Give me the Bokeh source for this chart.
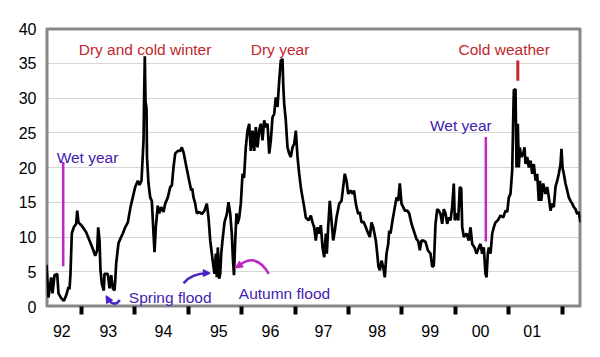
from bokeh.plotting import figure
from bokeh.models import Range1d, FixedTicker, Arrow, NormalHead
from bokeh.core.properties import value
from bokeh.embed import file_html
from bokeh.resources import INLINE

# ---- data (decimal year, value) ----
years = [
    1992.345, 1992.382, 1992.433, 1992.457, 1992.495, 1992.545, 1992.570, 1992.620, 1992.669, 1992.714,
    1992.757, 1992.776, 1992.794, 1992.819, 1992.856, 1992.901, 1992.920, 1992.944, 1992.995, 1993.044,
    1993.088, 1993.150, 1993.212, 1993.257, 1993.294, 1993.313, 1993.338, 1993.356, 1993.381, 1993.418,
    1993.431, 1993.493, 1993.525, 1993.557, 1993.587, 1993.618, 1993.632, 1993.650, 1993.693, 1993.731,
    1993.774, 1993.819, 1993.868, 1993.918, 1993.961, 1994.006, 1994.055, 1994.087, 1994.124, 1994.143,
    1994.162, 1994.171, 1994.186, 1994.199, 1994.218, 1994.227, 1994.255, 1994.287, 1994.317, 1994.349,
    1994.368, 1994.392, 1994.429, 1994.456, 1994.493, 1994.536, 1994.568, 1994.617, 1994.662, 1994.692,
    1994.723, 1994.755, 1994.804, 1994.849, 1994.879, 1994.911, 1994.954, 1994.991, 1995.017, 1995.055,
    1995.074, 1995.098, 1995.130, 1995.160, 1995.205, 1995.253, 1995.304, 1995.347, 1995.379, 1995.411,
    1995.441, 1995.472, 1995.491, 1995.516, 1995.534, 1995.553, 1995.579, 1995.598, 1995.617, 1995.641,
    1995.678, 1995.722, 1995.753, 1995.785, 1995.815, 1995.834, 1995.856, 1995.879, 1995.903, 1995.922,
    1995.954, 1995.984, 1996.016, 1996.044, 1996.077, 1996.109, 1996.141, 1996.171, 1996.203, 1996.235,
    1996.265, 1996.296, 1996.328, 1996.358, 1996.390, 1996.422, 1996.452, 1996.484, 1996.516, 1996.546,
    1996.577, 1996.609, 1996.639, 1996.671, 1996.703, 1996.733, 1996.765, 1996.778, 1996.796, 1996.826,
    1996.858, 1996.890, 1996.920, 1996.952, 1996.984, 1997.014, 1997.046, 1997.077, 1997.107, 1997.139,
    1997.171, 1997.201, 1997.252, 1997.295, 1997.326, 1997.358, 1997.388, 1997.420, 1997.452, 1997.482,
    1997.514, 1997.546, 1997.576, 1997.594, 1997.620, 1997.650, 1997.682, 1997.714, 1997.744, 1997.776,
    1997.826, 1997.870, 1997.901, 1997.931, 1997.963, 1997.995, 1998.038, 1998.076, 1998.104, 1998.137,
    1998.182, 1998.212, 1998.244, 1998.282, 1998.325, 1998.370, 1998.400, 1998.431, 1998.463, 1998.512,
    1998.538, 1998.562, 1998.587, 1998.619, 1998.650, 1998.680, 1998.712, 1998.744, 1998.763, 1998.787,
    1998.825, 1998.868, 1998.900, 1998.931, 1998.961, 1998.993, 1999.025, 1999.055, 1999.100, 1999.137,
    1999.180, 1999.223, 1999.274, 1999.306, 1999.336, 1999.368, 1999.399, 1999.443, 1999.486, 1999.536,
    1999.568, 1999.598, 1999.630, 1999.662, 1999.692, 1999.723, 1999.755, 1999.785, 1999.817, 1999.849,
    1999.879, 1999.911, 1999.942, 1999.972, 1999.991, 2000.023, 2000.055, 2000.085, 2000.111, 2000.130,
    2000.160, 2000.210, 2000.253, 2000.285, 2000.317, 2000.360, 2000.398, 2000.441, 2000.473, 2000.504,
    2000.534, 2000.566, 2000.585, 2000.609, 2000.628, 2000.660, 2000.692, 2000.722, 2000.753, 2000.797,
    2000.847, 2000.898, 2000.941, 2000.973, 2001.003, 2001.034, 2001.066, 2001.096, 2001.128, 2001.147,
    2001.171, 2001.190, 2001.208, 2001.235, 2001.272, 2001.297, 2001.315, 2001.347, 2001.377, 2001.409,
    2001.441, 2001.471, 2001.503, 2001.534, 2001.564, 2001.587, 2001.609, 2001.647, 2001.690, 2001.722,
    2001.752, 2001.783, 2001.815, 2001.845, 2001.877, 2001.909, 2001.939, 2001.971, 2001.989, 2002.008,
    2002.032, 2002.064, 2002.096, 2002.126, 2002.158, 2002.190, 2002.220, 2002.252, 2002.283, 2002.313,
    2002.345,
]
flow = [
    6.0, 1.3, 4.2, 1.9, 4.5, 4.7, 1.9, 1.2, 0.8, 1.6,
    2.8, 2.5, 4.7, 10.5, 11.4, 11.9, 13.8, 12.1, 11.7, 11.2,
    10.7, 9.5, 8.3, 7.3, 8.1, 11.4, 9.5, 5.2, 3.3, 2.3,
    4.7, 4.7, 2.6, 4.5, 2.6, 2.3, 3.7, 6.2, 9.1, 9.8,
    10.5, 11.4, 12.1, 14.3, 15.7, 17.2, 18.1, 17.5, 18.1, 21.0,
    23.9, 29.0, 36.0, 29.5, 28.5, 21.5, 17.7, 15.7, 15.2, 10.5,
    7.8, 11.4, 14.5, 13.4, 14.3, 13.6, 14.8, 15.7, 17.2, 17.4,
    20.0, 22.0, 22.4, 22.4, 22.9, 22.2, 20.5, 19.1, 18.1, 16.7,
    17.0, 15.7, 14.8, 13.4, 13.6, 13.3, 13.8, 14.8, 12.8, 9.5,
    7.6, 5.7, 4.7, 7.6, 4.2, 8.5, 4.0, 4.7, 7.6, 9.5,
    12.1, 13.3, 15.0, 13.4, 10.5, 7.1, 4.5, 9.5, 13.4, 11.9,
    12.8, 14.8, 19.1, 18.5, 22.9, 25.3, 26.3, 22.4, 25.3, 22.4,
    25.8, 22.9, 25.3, 26.3, 23.9, 26.8, 25.8, 26.3, 22.0, 23.9,
    27.2, 27.7, 30.1, 28.7, 32.5, 35.4, 35.6, 32.0, 29.2, 26.8,
    22.9, 22.0, 21.5, 22.9, 23.4, 25.3, 21.5, 19.1, 17.2, 15.7,
    14.3, 12.8, 12.4, 13.1, 12.1, 11.4, 9.5, 11.4, 10.5, 11.7,
    8.5, 7.1, 10.5, 7.6, 11.4, 15.2, 12.4, 9.5, 10.9, 12.8,
    14.8, 15.2, 17.2, 19.1, 18.1, 16.2, 16.7, 16.2, 16.7, 14.8,
    13.3, 13.6, 12.1, 12.2, 11.4, 10.5, 10.0, 12.1, 11.4, 9.5,
    7.6, 5.7, 5.2, 6.6, 5.7, 4.2, 7.6, 9.0, 10.9, 10.5,
    12.4, 14.3, 15.7, 15.2, 17.7, 14.8, 14.3, 13.8, 13.8, 13.4,
    11.9, 10.9, 9.7, 9.4, 8.1, 9.5, 9.5, 9.3, 8.1, 7.6,
    5.7, 5.9, 11.9, 14.0, 13.8, 13.3, 11.9, 14.0, 13.4, 11.9,
    12.8, 12.4, 14.3, 17.7, 12.4, 13.4, 12.4, 17.2, 17.0, 11.4,
    10.0, 10.5, 9.5, 11.4, 9.0, 8.5, 7.6, 8.5, 9.0, 7.6,
    8.5, 4.7, 4.2, 7.6, 8.5, 7.6, 10.5, 11.4, 12.1, 12.4,
    13.1, 12.8, 13.8, 13.6, 15.7, 16.2, 19.6, 31.1, 31.3, 20.0,
    26.3, 20.0, 22.9, 21.5, 22.0, 22.9, 20.5, 21.5, 20.0, 21.0,
    19.1, 20.5, 18.1, 19.1, 15.2, 18.1, 15.2, 17.7, 16.2, 17.2,
    15.7, 13.8, 14.8, 14.3, 17.2, 18.1, 19.1, 20.5, 22.7, 20.0,
    19.1, 17.7, 16.7, 15.7, 15.2, 14.8, 14.3, 14.0, 13.3, 13.6,
    12.1,
]

year_bounds = [1993, 1994, 1995, 1996, 1997, 1998, 1999, 2000, 2001, 2002]
label_pos = [1992.632, 1993.502, 1994.536, 1995.572, 1996.540,
             1997.532, 1998.538, 1999.531, 2000.473, 2001.441]
label_txt = ["92", "93", "94", "95", "96", "97", "98", "99", "00", "01"]
y_ticks = [0, 5, 10, 15, 20, 25, 30, 35, 40]
x_lo, x_hi = 1992.345, 2002.345
y_lo, y_hi = 0, 40

# annotations
red_labels = ["Dry and cold winter", "Dry year", "Cold weather"]
red_x = [1994.190, 1996.718, 2000.916]
red_y = [36.95, 37.05, 37.05]
wet_x = [1993.113, 2000.104]
wet_y = [21.45, 26.05]
wet_line_x = [1992.658, 2000.572]
wet_line_top = [20.8, 24.4]
wet_line_bot = [5.8, 9.35]
flood_labels = ["Spring flood", "Autumn flood"]
flood_x = [1993.886, 1995.946]
flood_y = [1.35, 1.8]

RED = "#c1272d"
INDIGO = "#4321b0"
MAGENTA = "#c026c4"
BLUE = "#4a22c8"
FRAME = "#878787"
FONT = "Liberation Sans"

p = figure(width=600, height=357, output_backend="svg", toolbar_location=None,
           x_range=Range1d(x_lo, x_hi), y_range=Range1d(y_lo, y_hi),
           min_border_left=46, min_border_right=20, min_border_top=28, min_border_bottom=51)
p.background_fill_color = "white"
p.border_fill_color = "white"
p.outline_line_color = FRAME
p.outline_line_width = 2

p.xgrid.grid_line_color = None
p.ygrid.grid_line_color = "#d6d6d6"
p.ygrid.grid_line_width = 1
p.yaxis.ticker = FixedTicker(ticks=y_ticks)
p.yaxis.axis_line_color = None
p.yaxis.major_tick_line_color = None
p.yaxis.minor_tick_line_color = None
p.yaxis.major_tick_out = 0
p.yaxis.major_label_standoff = 10
p.yaxis.major_label_text_font = FONT
p.yaxis.major_label_text_font_size = "16px"
p.yaxis.major_label_text_color = "black"

p.xaxis.ticker = FixedTicker(ticks=label_pos, minor_ticks=year_bounds)
p.xaxis.major_label_overrides = {k: v for k, v in zip(label_pos, label_txt)}
p.xaxis.axis_line_color = None
p.xaxis.major_tick_line_color = None
p.xaxis.major_tick_out = 0
p.xaxis.major_tick_in = 0
p.xaxis.minor_tick_line_color = "black"
p.xaxis.minor_tick_line_width = 4
p.xaxis.minor_tick_out = 8
p.xaxis.minor_tick_in = 0
p.xaxis.major_label_standoff = 10
p.xaxis.major_label_text_font = FONT
p.xaxis.major_label_text_font_size = "16px"
p.xaxis.major_label_text_color = "black"

# plot frame: four filled gray strips (about 2 px) along the edges of the plotting area
dx = 2.0 * (x_hi - x_lo) / 534.0
dy = 2.0 * (y_hi - y_lo) / 278.0
p.quad(left=[x_lo, x_hi - dx, x_lo, x_lo],
       right=[x_lo + dx, x_hi, x_hi, x_hi],
       bottom=[y_lo, y_lo, y_lo, y_hi - dy],
       top=[y_hi, y_hi, y_lo + dy, y_hi],
       fill_color=FRAME, line_color=None)

# main series
p.line(years, flow, line_color="black", line_width=2.7)

# red annotations
p.text(red_x, red_y, text=red_labels, text_color=RED, text_font=value(FONT),
       text_font_size="15.5px", text_align="center", text_baseline="alphabetic")
p.segment([2001.171], [35.4], [2001.171], [32.5], line_color=RED, line_width=3)

# wet years
p.text(wet_x, wet_y, text=["Wet year", "Wet year"], text_color=INDIGO, text_font=value(FONT),
       text_font_size="15.5px", text_align="center", text_baseline="alphabetic")
p.segment(wet_line_x, wet_line_top, wet_line_x, wet_line_bot, line_color=MAGENTA, line_width=2.5)

# floods
p.text(flood_x, flood_y, text=flood_labels, text_color=INDIGO, text_font=value(FONT),
       text_font_size="15.5px", text_align="left", text_baseline="alphabetic")

# spring flood arrows
p.quadratic(x0=[1993.718], y0=[0.95], x1=[1993.475], y1=[1.40], cx=[1993.600], cy=[-0.3],
            line_color=BLUE, line_width=2.5)
p.add_layout(Arrow(end=NormalHead(size=7, fill_color=BLUE, line_color=BLUE),
                   x_start=1993.52, y_start=0.75, x_end=1993.460, y_end=1.55,
                   line_alpha=0))
p.quadratic(x0=[1994.911], y0=[3.35], x1=[1995.385], y1=[4.80], cx=[1995.06], cy=[4.85],
            line_color=BLUE, line_width=2.5)
p.add_layout(Arrow(end=NormalHead(size=7, fill_color=BLUE, line_color=BLUE),
                   x_start=1995.20, y_start=4.82, x_end=1995.411, y_end=4.80,
                   line_alpha=0))
# autumn flood arrow
p.quadratic(x0=[1996.508], y0=[4.7], x1=[1995.910], y1=[5.6], cx=[1996.247], cy=[8.06],
            line_color=MAGENTA, line_width=2.5)
p.add_layout(Arrow(end=NormalHead(size=7, fill_color=MAGENTA, line_color=MAGENTA),
                   x_start=1996.05, y_start=6.4, x_end=1995.884, y_end=5.55,
                   line_alpha=0))

open("out.html", "w").write(file_html(p, INLINE))
